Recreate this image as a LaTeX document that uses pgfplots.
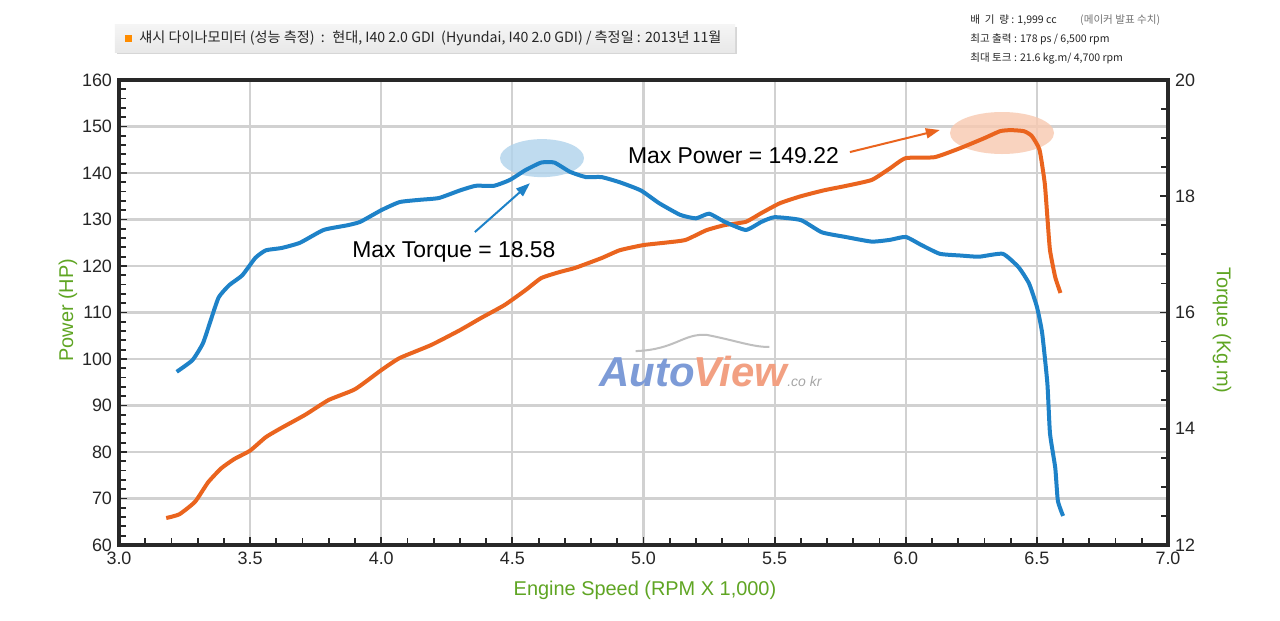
\documentclass[border=0pt]{standalone}
\usepackage{pgfplots}
\pgfplotsset{compat=1.18}
\usepackage{pgfplotstable}
\usepackage{fontspec}
\setmainfont{Liberation Sans}
\newfontfamily\kr{Noto Sans CJK KR}
\usetikzlibrary{arrows.meta}
\definecolor{pblue}{RGB}{30,130,200}
\definecolor{porange}{RGB}{234,100,30}
\definecolor{lgreen}{RGB}{95,165,35}
\definecolor{frame}{RGB}{40,40,40}
\definecolor{wmblue}{RGB}{125,155,215}
\definecolor{wmorange}{RGB}{242,160,130}

\pgfplotstableread{
rpm hp
3.18 65.8
3.23 66.6
3.29 69.3
3.34 73.5
3.39 76.5
3.44 78.5
3.50 80.3
3.56 83.2
3.62 85.2
3.71 88.0
3.80 91.2
3.90 93.5
4.00 97.6
4.07 100.2
4.19 103.0
4.30 106.2
4.38 108.8
4.47 111.6
4.55 114.8
4.61 117.4
4.68 118.7
4.74 119.6
4.84 121.7
4.91 123.4
5.00 124.5
5.08 125.0
5.16 125.6
5.24 127.7
5.31 128.8
5.39 129.5
5.45 131.4
5.52 133.5
5.60 135.0
5.69 136.3
5.77 137.2
5.87 138.5
5.94 141.0
6.00 143.2
6.11 143.4
6.21 145.4
6.30 147.5
6.36 149.0
6.40 149.22
6.45 149.0
6.48 148.0
6.51 145.0
6.53 137.8
6.54 130.5
6.55 123.4
6.57 117.6
6.59 114.2
}\powertable

\pgfplotstableread{
rpm tq
3.22 14.98
3.28 15.18
3.32 15.47
3.35 15.87
3.38 16.26
3.42 16.47
3.47 16.64
3.52 16.94
3.56 17.07
3.62 17.11
3.69 17.20
3.78 17.42
3.87 17.50
3.92 17.56
4.00 17.76
4.07 17.90
4.15 17.94
4.22 17.97
4.30 18.10
4.36 18.18
4.43 18.18
4.49 18.28
4.55 18.45
4.61 18.58
4.66 18.58
4.72 18.42
4.78 18.33
4.84 18.33
4.91 18.24
4.99 18.10
5.06 17.88
5.14 17.68
5.20 17.62
5.25 17.70
5.31 17.56
5.39 17.42
5.45 17.56
5.50 17.64
5.60 17.59
5.68 17.38
5.77 17.30
5.87 17.22
5.94 17.25
6.00 17.30
6.06 17.16
6.13 17.01
6.21 16.98
6.28 16.96
6.37 17.01
6.43 16.78
6.47 16.50
6.50 16.10
6.52 15.65
6.54 14.78
6.55 13.92
6.57 13.33
6.58 12.76
6.60 12.50
}\torquetable

\begin{document}
\begin{tikzpicture}
\path[use as bounding box, fill=white] (-59.5bp,-38bp) rectangle (580.5bp,272.5bp);

% header box
\fill[black!16] (-1bp,245.3bp) rectangle (309bp,259bp);
\shade[top color=black!4, bottom color=black!9] (-2bp,246.3bp) rectangle (308bp,260bp);
\fill[orange!90!yellow] (2.8bp,251.6bp) rectangle (6.4bp,255.2bp);
\node[anchor=west, inner sep=0pt, font=\kr\fontsize{7.1}{8}\selectfont, text=black!85] at (10bp,253.3bp)
  {섀시 다이나모미터 (성능 측정) \ : \ 현대, I40 2.0 GDI \ (Hyundai, I40 2.0 GDI) / 측정일 : 2013년 11월};

% spec text
\begin{scope}[every node/.style={anchor=west, inner sep=0pt, font=\kr\fontsize{5.3}{6}\selectfont, text=black!85}]
\node at (425.5bp,262.5bp) {배 \ 기 \ 량 : 1,999 cc \qquad \textcolor{black!55}{(메이커 발표 수치)}};
\node at (425.5bp,252.8bp) {최고 출력 : 178 ps / 6,500 rpm};
\node at (425.5bp,243.2bp) {최대 토크 : 21.6 kg.m/ 4,700 rpm};
\end{scope}

\begin{axis}[
  at={(0,0)}, anchor=south west,
  scale only axis, width=524.5bp, height=232.5bp,
  xmin=3, xmax=7, ymin=60, ymax=160,
  xtick={3,3.5,...,7}, ytick={60,70,...,160},
  minor x tick num=4, minor y tick num=4,
  tick pos=left, tick align=inside,
  major tick length=4bp, minor tick length=3.5bp,
  tick style={line width=0.9bp, color=frame},
  axis line style={line width=2bp, color=frame},
  grid=major,
  major grid style={line width=1.1bp, color=black!18},
  /pgf/number format/assume math mode=true,
  tick label style={font=\fontsize{9}{10}\selectfont, color=black!85},
  xticklabel style={/pgf/number format/fixed, /pgf/number format/fixed zerofill, /pgf/number format/precision=1},
  xlabel={Engine Speed (RPM X 1,000)},
  xlabel style={at={(axis description cs:0.5014,-0.0968)}, anchor=center, font=\fontsize{10}{12}\selectfont, color=lgreen},
  ylabel={Power (HP)},
  ylabel style={at={(axis description cs:-0.0486,0.505)}, anchor=center, font=\fontsize{10}{12}\selectfont, color=lgreen},
]
\fill[pblue!35, opacity=0.8] (axis cs:4.613,143.2) ellipse [x radius=21bp, y radius=9.5bp];
\fill[porange!35, opacity=0.8] (axis cs:6.367,148.6) ellipse [x radius=26bp, y radius=10.5bp];
\node[font=\bfseries\itshape\fontsize{21}{22}\selectfont, inner sep=0pt] at (axis cs:5.255,97.4)
  {\textcolor{wmblue}{Auto}\kern-0.5bp\textcolor{wmorange}{View}\textcolor{black!35}{\fontsize{7}{8}\selectfont\mdseries.co kr}};
\draw[black!25, line width=1bp] (axis cs:4.97,101.7) .. controls (axis cs:5.12,102) and (axis cs:5.15,105.5) .. (axis cs:5.24,105.2) .. controls (axis cs:5.35,104) and (axis cs:5.42,102.5) .. (axis cs:5.48,102.6);
\addplot[porange, line width=2bp, smooth, tension=0.3] table[x=rpm, y=hp] {\powertable};
\node[font=\fontsize{11.5}{13}\selectfont] at (axis cs:5.343,143.7) {Max Power = 149.22};
\node[font=\fontsize{11.5}{13}\selectfont] at (axis cs:4.277,123.0) {Max Torque = 18.58};
\draw[porange, line width=1bp, -{Triangle[length=7bp,width=5bp]}] (axis cs:5.787,144.5) -- (axis cs:6.13,149.25);
\draw[pblue, line width=1bp, -{Triangle[length=7bp,width=5bp]}] (axis cs:4.357,127.3) -- (axis cs:4.567,137.8);
\end{axis}

\begin{axis}[
  at={(0,0)}, anchor=south west,
  scale only axis, width=524.5bp, height=232.5bp,
  xmin=3, xmax=7, ymin=12, ymax=20,
  axis x line=none, axis y line*=right,
  ytick={12,14,...,20}, minor y tick num=3,
  ytick pos=right, tick align=inside,
  major tick length=4bp, minor tick length=3.5bp,
  tick style={line width=0.9bp, color=frame},
  axis line style={line width=2bp, color=frame, -},
  /pgf/number format/assume math mode=true,
  tick label style={font=\fontsize{9}{10}\selectfont, color=black!85},
  ylabel={Torque (Kg.m)},
  ylabel style={at={(axis description cs:1.0515,0.462)}, anchor=center, rotate=180, font=\fontsize{10}{12}\selectfont, color=lgreen},
]
\addplot[pblue, line width=2bp, smooth, tension=0.3] table[x=rpm, y=tq] {\torquetable};
\end{axis}
\end{tikzpicture}
\end{document}
